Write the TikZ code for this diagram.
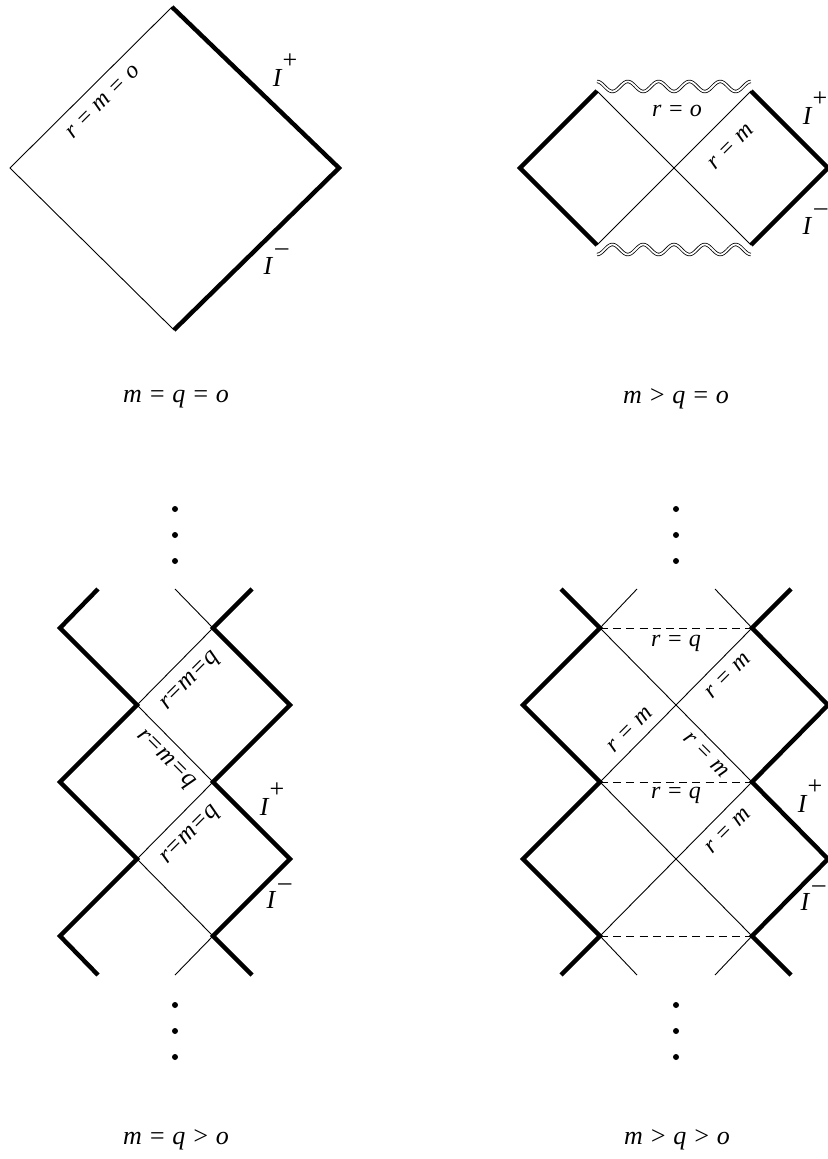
\documentclass[tikz,border=0pt]{standalone}
\usepackage{fontspec}
\setmainfont{Liberation Serif}
\usepackage{tikz}
\usetikzlibrary{positioning}

\newcommand{\scrip}{I\kern0.5pt\raisebox{0.7em}{\upshape +}}
\newcommand{\scrim}{I\kern1.5pt\raisebox{0.72em}{\upshape\textendash}}

\begin{document}
\begin{tikzpicture}[
    x=0.5pt, y=-0.5pt,
    scri/.style={line width=2.2pt},
    light/.style={line width=0.45pt},
    horizon/.style={line width=0.5pt, dash pattern=on 4pt off 2.6pt},
    sing/.style={double, line width=0.4pt, double distance=0.9pt},
    lbl/.style={font=\fontsize{12}{14}\selectfont\itshape, inner sep=1pt},
    tight/.style={font=\fontsize{12.5}{14}\selectfont\itshape, inner sep=0pt},
    inf/.style={font=\fontsize{13}{15}\selectfont\itshape, inner sep=1pt},
    casetext/.style={font=\fontsize{13}{15}\selectfont\itshape},
    dot/.style={fill=black, draw=none}
]
    \useasboundingbox (0,0) rectangle (827,1159);

    % m = q = o
    \coordinate (at) at (172,7);
    \coordinate (ar) at (339,168);
    \coordinate (ab) at (174,330);
    \coordinate (al) at (10,168);
    \draw[light] (ab) -- (al) -- (at);
    \draw[scri] (at) -- (ar) -- (ab);
    \node[lbl, rotate=45] (alab) at (103,102) {r = m = o};
    \node[inf] (aip) at (285,70) {\scrip};
    \node[inf] (aim) at (276,262) {\scrim};
    \node[casetext] (acap) at (176,399) {m = q = o};

    % m > q = o
    \coordinate (btl) at (597,91);
    \coordinate (btr) at (751,91);
    \coordinate (bbl) at (597,245);
    \coordinate (bbr) at (751,245);
    \coordinate (bl) at (520,168);
    \coordinate (br) at (828,168);
    \draw[scri] (btl) -- (bl) -- (bbl);
    \draw[scri] (btr) -- (br) -- (bbr);
    \draw[light] (btl) -- (bbr);
    \draw[light] (bbl) -- (btr);
    \draw[sing] plot[domain=0:1, samples=120, smooth] ({597+154*\x}, {86.5-5*cos(1800*\x)});
    \draw[sing] plot[domain=0:1, samples=120, smooth] ({597+154*\x}, {249.5+5*cos(1800*\x)});
    \node[lbl] (blo) at (677,111) {r = o};
    \node[lbl, rotate=45] (blm) at (731,147) {r = m};
    \node[inf] (bip) at (815,108) {\scrip};
    \node[inf] (bim) at (815,222) {\scrim};
    \node[casetext] (bcap) at (676,399) {m > q = o};

    % m = q > o
    \foreach \y in {509,535,561,1005,1031,1057}
        \fill[dot] (175,\y) circle (3);
    \draw[scri] (98,589) -- (60,628) -- (137,705) -- (60,782) -- (137,859) -- (60,936) -- (98,975);
    \draw[scri] (252,589) -- (213,628) -- (290,705) -- (213,782) -- (290,859) -- (213,936) -- (252,975);
    \draw[light] (175,589) -- (213,628) -- (137,705) -- (213,782) -- (137,859) -- (213,936) -- (175,975);
    \node[tight, rotate=45] (cl1) at (191,682) {r=m=q};
    \node[tight, rotate=-45] (cl2) at (165,760) {r=m=q};
    \node[tight, rotate=45] (cl3) at (191,836) {r=m=q};
    \node[inf] (cip) at (272,799) {\scrip};
    \node[inf] (cim) at (279,896) {\scrim};
    \node[casetext] (ccap) at (176,1140) {m = q > o};

    % m > q > o
    \foreach \y in {509,535,561,1005,1031,1057}
        \fill[dot] (676,\y) circle (3);
    \draw[scri] (561,589) -- (600,628) -- (523,705) -- (600,782) -- (523,859) -- (600,936) -- (561,975);
    \draw[scri] (791,589) -- (752,628) -- (828,705) -- (752,782) -- (828,859) -- (752,936) -- (791,975);
    \draw[light] (637,589) -- (600,628) -- (752,782) -- (600,936) -- (637,975);
    \draw[light] (715,589) -- (752,628) -- (600,782) -- (752,936) -- (715,975);
    \draw[horizon] (600,628) -- (752,628);
    \draw[horizon] (600,782) -- (752,782);
    \draw[horizon] (600,936) -- (752,936);
    \node[lbl] (dq1) at (676,643) {r = q};
    \node[lbl, rotate=45] (dm1) at (728,676) {r = m};
    \node[lbl, rotate=45] (dm2) at (630,730) {r = m};
    \node[lbl, rotate=-45] (dm3) at (706,755) {r = m};
    \node[lbl] (dq2) at (676,795) {r = q};
    \node[lbl, rotate=45] (dm4) at (728,831) {r = m};
    \node[inf] (dip) at (810,796) {\scrip};
    \node[inf] (dim) at (813,898) {\scrim};
    \node[casetext] (dcap) at (677,1140) {m > q > o};
\end{tikzpicture}
\end{document}
